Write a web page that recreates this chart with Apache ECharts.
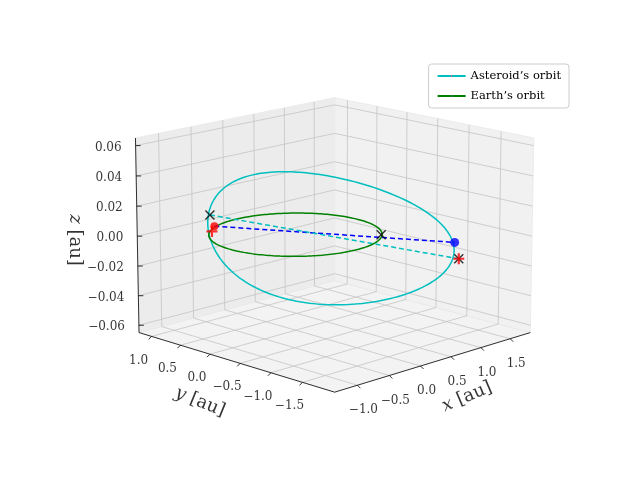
<!DOCTYPE html>
<html><head><meta charset="utf-8">
<script src="https://cdn.jsdelivr.net/npm/echarts@6/dist/echarts.min.js"></script>
<style>html,body{margin:0;padding:0;background:#fff}#c{width:640px;height:480px}</style>
</head><body><div id="c"></div>
<script>
// axis ranges and ticks
const xRange = [-1.35, 1.85];
const yRange = [-2.0, 1.22];
const zRange = [-0.065, 0.065];
const xTicks = [-1.0, -0.5, 0.0, 0.5, 1.0, 1.5];
const yTicks = [-1.5, -1.0, -0.5, 0.0, 0.5, 1.0];
const zTicks = [-0.06, -0.04, -0.02, 0.00, 0.02, 0.04, 0.06];
// orbits: [semi-major axis, eccentricity, aphelion direction (deg), z amplitude, z phase (deg)]
const asteroidOrbit = [1.42, 0.29, -45, 0.026, 22];
const earthOrbit = [1.0, 0.0, 0, 0.0, 0];
// markers [x,y,z]
const earthPos = [-0.67, 0.65, 0.0055];
const earthPos2 = [-0.69, 0.67, 0.002];
const asteroidPos = [1.315, -1.285, -0.006];
const sunMark = [0.75, -0.65, -0.0015];
const markX1 = [-0.705, 0.685, 0.013];
const markX2 = [1.35, -1.32, -0.017];

// ---- perspective camera, fitted to the box corners of the figure ----
const fitTargets = [
  [[0,0,0],[335,392]],[[1,0,0],[530,330]],[[0,1,0],[140,333]],
  [[0,1,1],[133,140]],[[1,1,1],[335,98]],[[1,0,1],[535,138]]];
function camProj(el, az, D, za, u, v, w) {
  const X = 2*u-1, Y = 2*v-1, Z = za*(2*w-1);
  const ce=Math.cos(el), se=Math.sin(el), ca=Math.cos(az), sa=Math.sin(az);
  const dx = -sa*X + ca*Y;
  const dy = -se*ca*X - se*sa*Y + ce*Z;
  const dep = D - (ce*ca*X + ce*sa*Y + se*Z);
  return [dx*D/dep, -dy*D/dep];
}
let best = null;
for (let el=2; el<=30; el+=0.5) for (let az=-150; az<=-120; az+=0.5)
for (let D of [3,3.5,4,5,6,7,8,10,12,15,20,30]) for (let za=0.5; za<=1.3; za+=0.02) {
  const pr = fitTargets.map(t=>camProj(el*Math.PI/180, az*Math.PI/180, D, za, ...t[0]));
  const n = pr.length; let mpx=0,mpy=0,mX=0,mY=0;
  pr.forEach((p,i)=>{mpx+=p[0];mpy+=p[1];mX+=fitTargets[i][1][0];mY+=fitTargets[i][1][1];});
  mpx/=n;mpy/=n;mX/=n;mY/=n;
  let num=0,den=0;
  pr.forEach((p,i)=>{const a=p[0]-mpx,b=p[1]-mpy;num+=a*(fitTargets[i][1][0]-mX)+b*(fitTargets[i][1][1]-mY);den+=a*a+b*b;});
  const s=num/den, cx=mX-s*mpx, cy=mY-s*mpy;
  let err=0; pr.forEach((p,i)=>{err+=(cx+s*p[0]-fitTargets[i][1][0])**2+(cy+s*p[1]-fitTargets[i][1][1])**2;});
  if (!best || err<best.err) best={err,el,az,D,za,s,cx,cy};
}
const CAM = best;
function P(x, y, z) {
  const u = (x - xRange[0]) / (xRange[1] - xRange[0]);
  const v = (y - yRange[0]) / (yRange[1] - yRange[0]);
  const w = (z - zRange[0]) / (zRange[1] - zRange[0]);
  const p = camProj(CAM.el*Math.PI/180, CAM.az*Math.PI/180, CAM.D, CAM.za, u, v, w);
  return [CAM.cx + CAM.s*p[0], CAM.cy + CAM.s*p[1]];
}
function orbit(el) {
  const [a, e, ang, zk, ph] = el, th0 = ang*Math.PI/180, phr = ph*Math.PI/180;
  const ux = Math.cos(th0), uy = Math.sin(th0), vx = -uy, vy = ux;
  const pts = [];
  for (let i = 0; i <= 240; i++) {
    const t = i/240*2*Math.PI;
    const r = a*(1-e*e)/(1+e*Math.cos(t));
    const px = r*Math.cos(t), py = r*Math.sin(t);
    const x = -px*ux + py*vx, y = -px*uy + py*vy;
    const z = zk * Math.sin(t + phr);
    pts.push(P(x, y, z));
  }
  return pts;
}
const series = [];
function line(pts, color, width, type, name, z2) {
  series.push({type:'line', name, data:pts, symbol:'none', silent:true, z:z2||2,
    lineStyle:{color, width, type:type||'solid'}, animation:false});
}
const [x0,x1]=xRange,[y0,y1]=yRange,[z0,z1]=zRange;
const panes = [
  [[P(x0,y0,z0),P(x1,y0,z0),P(x1,y1,z0),P(x0,y1,z0)],'#f3f3f3'],
  [[P(x0,y1,z0),P(x1,y1,z0),P(x1,y1,z1),P(x0,y1,z1)],'#ececec'],
  [[P(x1,y0,z0),P(x1,y1,z0),P(x1,y1,z1),P(x1,y0,z1)],'#f1f1f1']
];
series.push({type:'custom', silent:true, z:0, animation:false,
  data: panes.map((p,i)=>i),
  renderItem:(params, api)=>{
    const [pts,c]=panes[params.dataIndex];
    return {type:'polygon', shape:{points:pts.map(q=>api.coord(q))}, style:{fill:c, stroke:'#e8e8e8', lineWidth:0.8}};
  }});
const gc = '#c4c4c4';
xTicks.forEach(x=>{ line([P(x,y0,z0),P(x,y1,z0),P(x,y1,z1)], gc, 0.8); });
yTicks.forEach(y=>{ line([P(x0,y,z0),P(x1,y,z0),P(x1,y,z1)], gc, 0.8); });
zTicks.forEach(z=>{ line([P(x0,y1,z),P(x1,y1,z),P(x1,y0,z)], gc, 0.8); });
line([P(x0,y0,z0),P(x1,y0,z0)], '#000', 0.8);
line([P(x0,y0,z0),P(x0,y1,z0)], '#000', 0.8);
line([P(x0,y1,z0),P(x0,y1,z1)], '#000', 0.8);
const labels = [];
xTicks.forEach(x=>{ const a=P(x,y0,z0); line([a,[a[0]+3,a[1]+3]], '#000', 0.8);
  labels.push({value:[a[0]+6,a[1]+25], t:x.toFixed(1).replace('-','−'), al:'center'}); });
yTicks.forEach(y=>{ const a=P(x0,y,z0); line([a,[a[0]-3,a[1]+3]], '#000', 0.8);
  labels.push({value:[a[0]-13,a[1]+24], t:y.toFixed(1).replace('-','−'), al:'center'}); });
zTicks.forEach(z=>{ const a=P(x0,y1,z); line([a,[a[0]+5,a[1]]], '#000', 0.8);
  labels.push({value:[a[0]-14,a[1]+2], t:z.toFixed(2).replace('-','−'), al:'right'}); });
line(orbit(asteroidOrbit), '#00bfbf', 1.5, 'solid', 'Asteroid’s orbit', 3);
line(orbit(earthOrbit), '#008000', 1.5, 'solid', 'Earth’s orbit', 3);
line([P(...earthPos),P(...asteroidPos)], '#0000ff', 1.5, [5,3], null, 4);
line([P(...markX1),P(...markX2)], '#00bfbf', 1.5, [5,3], null, 4);
const plus='path://M-1,-0.2H1V0.2H-1Z M-0.2,-1H0.2V1H-0.2Z';
const xs='path://M-1,-0.8L-0.8,-1L0,-0.2L0.8,-1L1,-0.8L0.2,0L1,0.8L0.8,1L0,0.2L-0.8,1L-1,0.8L-0.2,0Z';
series.push({type:'scatter', data:[P(...asteroidPos)], symbolSize:9, itemStyle:{color:'#0000ff'}, z:5, animation:false});
series.push({type:'scatter', data:[P(...earthPos)], symbolSize:8, itemStyle:{color:'#ff0000'}, z:5, animation:false});
series.push({type:'scatter', data:[P(...markX1),P(...sunMark),P(...markX2)], symbol:xs, symbolSize:10, itemStyle:{color:'#000'}, z:6, animation:false});
series.push({type:'scatter', data:[P(...earthPos2),P(...markX2)], symbol:plus, symbolSize:11, itemStyle:{color:'#ff0000'}, z:7, animation:false});
series.push({type:'scatter', symbolSize:0, z:8, animation:false, silent:true,
  data: labels.map(l=>({value:l.value, label:{formatter:l.t, align:l.al}})),
  label:{show:true, position:'inside', color:'#000', fontFamily:'DejaVu Serif', fontSize:12, verticalAlign:'middle'}});
series.push({type:'scatter', symbolSize:0, z:8, animation:false, silent:true,
  data:[
    {value:[467,397], label:{formatter:'{i|x} [au]', rotate:23}},
    {value:[200,402], label:{formatter:'{i|y} [au]', rotate:-22}},
    {value:[75,240], label:{formatter:'{i|z} [au]', rotate:-90}}],
  label:{show:true, position:'inside', color:'#000', fontFamily:'DejaVu Serif', fontSize:18,
    rich:{i:{fontStyle:'italic', fontFamily:'DejaVu Serif', fontSize:18}}}});
const chart = echarts.init(document.getElementById('c'));
chart.setOption({
  animation:false,
  grid:{left:0,right:0,top:0,bottom:0},
  xAxis:{type:'value', min:0, max:640, show:false},
  yAxis:{type:'value', min:0, max:480, inverse:true, show:false},
  legend:{data:['Asteroid’s orbit','Earth’s orbit'], orient:'vertical', right:71, top:64,
    itemWidth:28, itemHeight:2, itemGap:8, padding:[6,8],
    backgroundColor:'#fff', borderColor:'#ccc', borderWidth:1, borderRadius:3,
    textStyle:{fontFamily:'DejaVu Serif', fontSize:11.5, color:'#000'}},
  series
});
</script></body></html>
